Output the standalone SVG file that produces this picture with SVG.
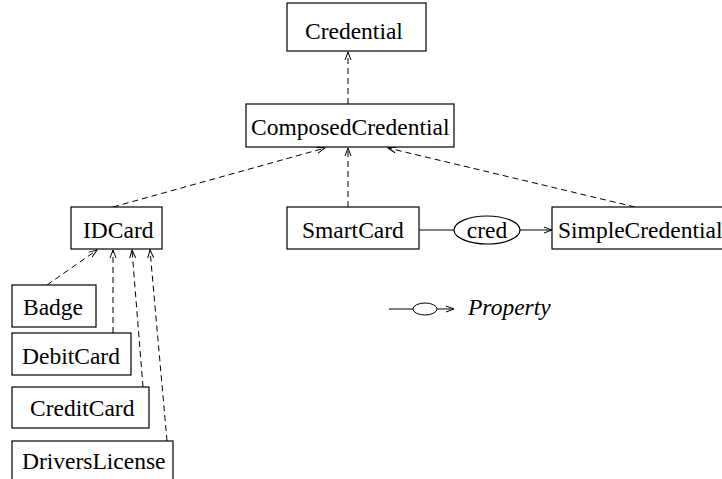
<svg xmlns="http://www.w3.org/2000/svg" width="722" height="479" viewBox="0 0 722 479">
<style>
.box{fill:#fff;stroke:#000;stroke-width:1.2}
.t{font-family:"Liberation Serif","Times New Roman",serif;font-size:23.5px;fill:#000}
.c{fill:none;stroke:#000;stroke-width:1}
.d{stroke-dasharray:6 4}
</style>
<defs>
<marker id="ah" markerUnits="userSpaceOnUse" markerWidth="10" markerHeight="8" refX="8" refY="3" orient="auto" overflow="visible">
<path d="M0,0 L8,3 L0,6" fill="none" stroke="#000" stroke-width="1" stroke-dasharray="none"/>
</marker>
</defs>
<rect width="722" height="479" fill="#fff"/>
<g id="connectors">
<line class="c d" x1="348" y1="104" x2="348" y2="52" marker-end="url(#ah)"/>
<line class="c d" x1="113" y1="207" x2="325" y2="148" marker-end="url(#ah)"/>
<line class="c d" x1="348" y1="207" x2="348" y2="148" marker-end="url(#ah)"/>
<line class="c d" x1="635" y1="207" x2="388" y2="148" marker-end="url(#ah)"/>
<line class="c d" x1="47" y1="285" x2="97" y2="250" marker-end="url(#ah)"/>
<line class="c d" x1="113" y1="333" x2="113" y2="250" marker-end="url(#ah)"/>
<line class="c d" x1="143" y1="387" x2="132" y2="250" marker-end="url(#ah)"/>
<line class="c d" x1="167" y1="441" x2="150" y2="250" marker-end="url(#ah)"/>
<line class="c" x1="419" y1="230" x2="454" y2="230"/>
<line class="c" x1="520" y1="230" x2="552" y2="230" marker-end="url(#ah)"/>
</g>
<g id="cred">
<ellipse cx="487" cy="230" rx="33" ry="14" fill="#fff" stroke="#000" stroke-width="1.2"/>
<text class="t" x="487" y="238" text-anchor="middle">cred</text>
</g>
<g id="Credential">
<rect class="box" x="287" y="3" width="139" height="48"/>
<text class="t" x="305" y="39">Credential</text>
</g>
<g id="ComposedCredential">
<rect class="box" x="246" y="104" width="208" height="43"/>
<text class="t" x="251" y="135">ComposedCredential</text>
</g>
<g id="IDCard">
<rect class="box" x="71" y="207" width="91" height="42"/>
<text class="t" x="83" y="238">IDCard</text>
</g>
<g id="SmartCard">
<rect class="box" x="287" y="207" width="132" height="42"/>
<text class="t" x="302" y="238">SmartCard</text>
</g>
<g id="SimpleCredential">
<rect class="box" x="552" y="207" width="180" height="42"/>
<text class="t" x="558" y="238">SimpleCredential</text>
</g>
<g id="Badge">
<rect class="box" x="12" y="285" width="84" height="42"/>
<text class="t" x="23" y="315">Badge</text>
</g>
<g id="DebitCard">
<rect class="box" x="12" y="333" width="119" height="42"/>
<text class="t" x="22" y="364">DebitCard</text>
</g>
<g id="CreditCard">
<rect class="box" x="12" y="387" width="137" height="41"/>
<text class="t" x="30" y="416">CreditCard</text>
</g>
<g id="DriversLicense">
<rect class="box" x="12" y="441" width="161" height="50"/>
<text class="t" x="22" y="469">DriversLicense</text>
</g>
<g id="legend">
<line class="c" x1="389" y1="309" x2="413" y2="309"/>
<ellipse cx="425" cy="309" rx="12" ry="6" fill="#fff" stroke="#000" stroke-width="1"/>
<line class="c" x1="437" y1="309" x2="454" y2="309" marker-end="url(#ah)"/>
<text class="t" x="468" y="315" font-style="italic">Property</text>
</g>
</svg>
